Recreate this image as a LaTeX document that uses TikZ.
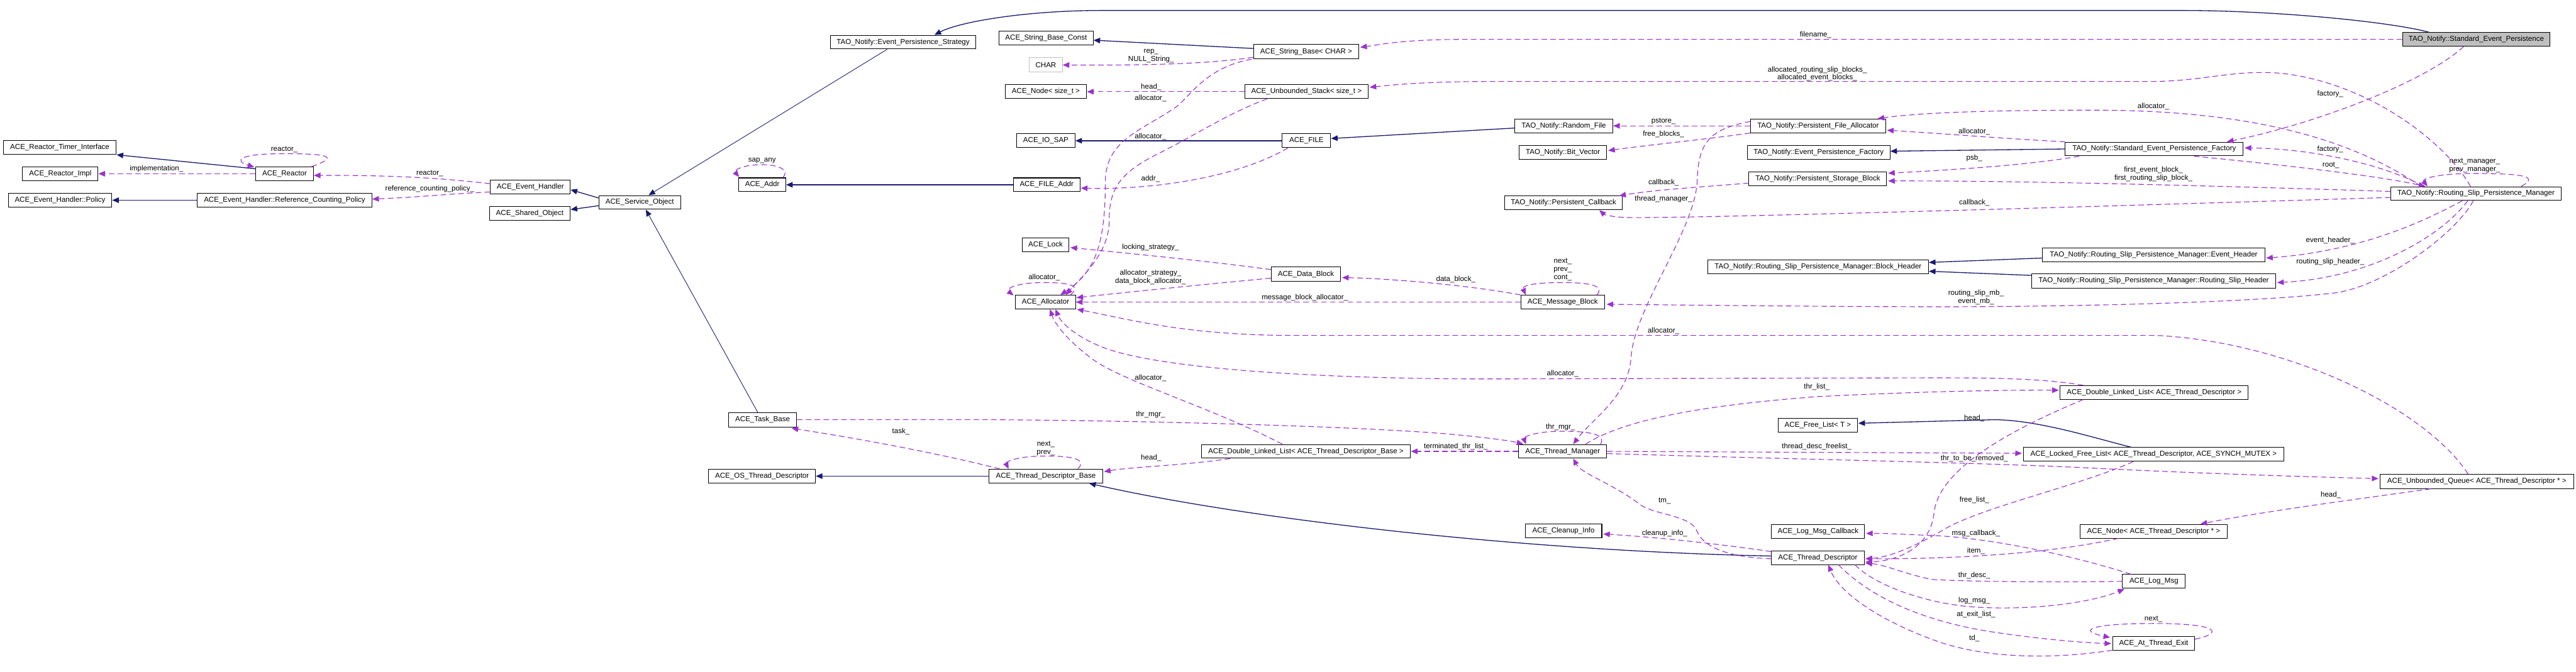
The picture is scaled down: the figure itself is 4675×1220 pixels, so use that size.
\documentclass[tikz,border=0pt]{standalone}
\usepackage{fontspec}
\setmainfont{Liberation Sans}
\usetikzlibrary{arrows.meta,calc}
\definecolor{inhblue}{HTML}{191970}
\definecolor{usepurple}{HTML}{9A32CD}
\definecolor{boxgray}{HTML}{BFBFBF}
\begin{document}
\begin{tikzpicture}[x=1pt,y=-1pt,
 cls/.style={draw=black,line width=1.15pt,fill=white,minimum height=25pt,inner sep=0pt,font=\fontsize{13.2}{15}\selectfont},
 lbl/.style={inner sep=0pt,align=center,font=\fontsize{13.2}{14.5}\selectfont},
 inh/.style={draw=inhblue,line width=1.5pt,-{Triangle[length=12pt,width=10pt]}},
 use/.style={draw=usepurple,line width=1.3pt,dash pattern=on 10pt off 6pt,-{Triangle[length=12pt,width=10pt]}}]
\useasboundingbox (0,0) rectangle (4675,1220);
% ---------- classes
\node[cls,minimum width=205pt] (rti) at (108.5,268) {ACE\_Reactor\_Timer\_Interface};
\node[cls,minimum width=137pt] (rimpl) at (109.5,315.5) {ACE\_Reactor\_Impl};
\node[cls,minimum width=188pt] (policy) at (109,363.5) {ACE\_Event\_Handler::Policy};
\node[cls,minimum width=105pt] (reactor) at (516.5,315.5) {ACE\_Reactor};
\node[cls,minimum width=317pt] (rcp) at (516.5,363.5) {ACE\_Event\_Handler::Reference\_Counting\_Policy};
\node[cls,minimum width=145pt] (eh) at (962.5,339.5) {ACE\_Event\_Handler};
\node[cls,minimum width=147pt] (so) at (961.5,387.5) {ACE\_Shared\_Object};
\node[cls,minimum width=148pt] (svc) at (1161,367.5) {ACE\_Service\_Object};
\node[cls,minimum width=264pt] (eps) at (1639,76.5) {TAO\_Notify::Event\_Persistence\_Strategy};
\node[cls,minimum width=171pt] (sbc) at (1898.5,69) {ACE\_String\_Base\_Const};
\node[cls,minimum width=60pt,minimum height=26pt,draw=boxgray] (char) at (1898,118) {CHAR};
\node[cls,minimum width=148pt] (nodesz) at (1898,166.5) {ACE\_Node< size\_t >};
\node[cls,minimum width=106pt] (iosap) at (1898,255.5) {ACE\_IO\_SAP};
\node[cls,minimum width=85pt] (addr) at (1383.5,335.5) {ACE\_Addr};
\node[cls,minimum width=121pt] (fileaddr) at (1899.5,335.5) {ACE\_FILE\_Addr};
\node[cls,minimum width=191pt,minimum height=26pt] (sb) at (2370.5,94) {ACE\_String\_Base< CHAR >};
\node[cls,minimum width=224pt] (us) at (2371,166.5) {ACE\_Unbounded\_Stack< size\_t >};
\node[cls,minimum width=88pt] (file) at (2371,255.5) {ACE\_FILE};
\node[cls,minimum width=178pt] (rf) at (2838,228.5) {TAO\_Notify::Random\_File};
\node[cls,minimum width=159pt] (bv) at (2836.5,276.5) {TAO\_Notify::Bit\_Vector};
\node[cls,minimum width=245pt] (pfa) at (3299.5,228.5) {TAO\_Notify::Persistent\_File\_Allocator};
\node[cls,minimum width=259pt] (epf) at (3300.5,276.5) {TAO\_Notify::Event\_Persistence\_Factory};
\node[cls,minimum width=250pt] (psb) at (3299,324.5) {TAO\_Notify::Persistent\_Storage\_Block};
\node[cls,minimum width=213pt] (pcb) at (2837.5,368.5) {TAO\_Notify::Persistent\_Callback};
\node[cls,minimum width=268pt,fill=boxgray] (sep) at (4494,71.5) {TAO\_Notify::Standard\_Event\_Persistence};
\node[cls,minimum width=323pt] (sepf) at (3909.5,270.5) {TAO\_Notify::Standard\_Event\_Persistence\_Factory};
\node[cls,minimum width=309pt] (rspm) at (4493.5,351.5) {TAO\_Notify::Routing\_Slip\_Persistence\_Manager};
\node[cls,minimum width=85pt] (lock) at (1897.5,444.5) {ACE\_Lock};
\node[cls,minimum width=109pt] (alloc) at (1897.5,548.5) {ACE\_Allocator};
\node[cls,minimum width=124pt,minimum height=26pt] (task) at (1384,762) {ACE\_Task\_Base};
\node[cls,minimum width=126pt,minimum height=26pt] (db) at (2370,498) {ACE\_Data\_Block};
\node[cls,minimum width=152pt] (mb) at (2836,548.5) {ACE\_Message\_Block};
\node[cls,minimum width=401pt] (bh) at (3299.5,484.5) {TAO\_Notify::Routing\_Slip\_Persistence\_Manager::Block\_Header};
\node[cls,minimum width=144pt] (fl) at (3299,772.5) {ACE\_Free\_List< T >};
\node[cls,minimum width=160pt] (tm) at (2836,819.5) {ACE\_Thread\_Manager};
\node[cls,minimum width=380pt] (dlltdb) at (2370,819.5) {ACE\_Double\_Linked\_List< ACE\_Thread\_Descriptor\_Base >};
\node[cls,minimum width=403pt] (evh) at (3908.5,462.5) {TAO\_Notify::Routing\_Slip\_Persistence\_Manager::Event\_Header};
\node[cls,minimum width=443pt,minimum height=26pt] (rsh) at (3908.5,510) {TAO\_Notify::Routing\_Slip\_Persistence\_Manager::Routing\_Slip\_Header};
\node[cls,minimum width=341pt] (dlltd) at (3909.5,712.5) {ACE\_Double\_Linked\_List< ACE\_Thread\_Descriptor >};
\node[cls,minimum width=473pt] (lfl) at (3908.5,825) {ACE\_Locked\_Free\_List< ACE\_Thread\_Descriptor, ACE\_SYNCH\_MUTEX >};
\node[cls,minimum width=194pt] (ostd) at (1383,864.5) {ACE\_OS\_Thread\_Descriptor};
\node[cls,minimum width=206pt] (tdb) at (1898,864.5) {ACE\_Thread\_Descriptor\_Base};
\node[cls,minimum width=139pt] (cleanup) at (2837.5,963.5) {ACE\_Cleanup\_Info};
\node[cls,minimum width=169pt] (lmc) at (3299.5,964.5) {ACE\_Log\_Msg\_Callback};
\node[cls,minimum width=168pt] (td) at (3299,1012.5) {ACE\_Thread\_Descriptor};
\node[cls,minimum width=352pt,minimum height=26pt] (uq) at (4495,874) {ACE\_Unbounded\_Queue< ACE\_Thread\_Descriptor * >};
\node[cls,minimum width=267pt] (nodetd) at (3908.5,964.5) {ACE\_Node< ACE\_Thread\_Descriptor * >};
\node[cls,minimum width=114pt] (logmsg) at (3909,1055.5) {ACE\_Log\_Msg};
\node[cls,minimum width=149pt] (ate) at (3908.5,1168.5) {ACE\_At\_Thread\_Exit};
% ---------- inheritance
\draw[inh] ($(reactor.north west)+(0,4)$) -- (rti.south east);
\draw[inh] (rcp.west) -- (policy.east);
\draw[inh] ($(svc.west)+(0,-8)$) -- ($(eh.east)+(0,5)$);
\draw[inh] ($(svc.west)+(0,6)$) -- ($(so.east)+(0,-7)$);
\draw[inh,line width=1pt] ($(eps.south)+(-29,0)$) -- ($(svc.north)+(16,0)$);
\draw[inh,line width=1pt] ($(task.north)+(-9,0)$) -- ($(svc.south)+(11,0)$);
\draw[inh] ($(sep.north)+(-86,0)$) .. controls (4330,38) and (4120,19) .. (3960,19) -- (2000,19) .. controls (1860,19) and (1740,40) .. ($(eps.north)+(57,0)$);
\draw[inh] ($(sb.west)+(0,-6)$) -- ($(sbc.east)+(0,4)$);
\draw[inh] (file.west) -- (iosap.east);
\draw[inh] (fileaddr.west) -- (addr.east);
\draw[inh] ($(rf.west)+(0,4)$) -- ($(file.east)+(0,-4)$);
\draw[inh] (sepf.west) -- ($(epf.east)+(0,-2)$);
\draw[inh] ($(evh.west)+(0,6)$) -- ($(bh.east)+(0,-8)$);
\draw[inh] ($(rsh.west)+(0,-10)$) -- ($(bh.east)+(0,8)$);
\draw[inh] (tdb.west) -- (ostd.east);
\draw[inh] ($(td.west)+(0,-3)$) .. controls (2750,1000) and (2250,940) .. ($(tdb.south east)+(-25,0)$);
\draw[inh] ($(lfl.north)+(-41,0)$) .. controls (3800,795) and (3700,763) .. (3620,762) -- ($(fl.east)+(1,-4)$);
% ---------- usage
\draw[use] ($(reactor.north east)+(-4,0)$) .. controls (615,285) and (600,279) .. (516,279) .. controls (430,279) and (425,292) .. ($(reactor.north west)+(-2,1)$);
\draw[use] (reactor.west) -- (rimpl.east);
\draw[use] ($(eh.west)+(0,-6)$) .. controls (790,322) and (700,318) .. ($(reactor.east)+(0,3)$);
\draw[use] ($(eh.west)+(0,9)$) .. controls (800,353) and (760,358) .. ($(rcp.east)+(0,-2)$);
\draw[use] ($(addr.north east)+(-6,0)$) .. controls (1432,312) and (1420,299) .. (1383,299) .. controls (1345,299) and (1332,310) .. ($(addr.north west)+(1,-1)$);
\draw[use] ($(sb.west)+(0,10)$) .. controls (2200,115) and (2100,119) .. (char.east);
\draw[use] (us.west) -- (nodesz.east);
\draw[use] ($(us.south west)+(41,0)$) .. controls (2230,205) and (2170,245) .. (2100,280) .. controls (2030,315) and (2013,345) .. (2013,400) .. controls (2013,460) and (1965,500) .. ($(alloc.north)+(37,0)$);
\draw[use] ($(sb.south west)+(-3,0)$) .. controls (2200,120) and (2170,160) .. (2140,190) .. controls (2080,235) and (2006,250) .. (2006,330) .. controls (2006,450) and (1985,495) .. ($(alloc.north)+(27,0)$);
\draw[use] ($(file.south west)+(11,0)$) .. controls (2250,320) and (2100,345) .. ($(fileaddr.east)+(1,6)$);
\draw[use] (sep.west) -- (2660,71.5) .. controls (2550,71.5) and (2510,80) .. ($(sb.east)+(2,-8)$);
\draw[use] ($(rspm.north)+(-10,0)$) .. controls (4440,260) and (4300,150) .. (4139,133) .. controls (4050,126) and (4000,148) .. (3900,148) -- (2700,148) .. controls (2580,148) and (2520,155) .. ($(us.east)+(2,-8)$);
\draw[use] ($(rspm.north)+(82,0)$) .. controls (4605,322) and (4590,315) .. (4490,315) .. controls (4420,315) and (4395,325) .. ($(rspm.north)+(-88,0)$);
\draw[use] ($(sep.south)+(-23,0)$) .. controls (4400,150) and (4200,225) .. ($(sepf.north)+(132,0)$);
\draw[use] ($(rspm.north)+(-95,0)$) .. controls (4330,300) and (4200,270) .. ($(sepf.east)+(2,-2)$);
\draw[use] ($(sepf.south east)+(-90,0)$) .. controls (4150,300) and (4320,320) .. ($(rspm.north)+(-92,0)$);
\draw[use] (sepf.north west) .. controls (3640,252) and (3520,242) .. ($(pfa.east)+(2,8)$);
\draw[use] ($(rspm.north)+(-100,0)$) .. controls (4250,240) and (4050,200) .. (3800,200) .. controls (3600,200) and (3480,205) .. ($(pfa.north east)+(-15,0)$);
\draw[use] ($(sepf.south west)+(26,0)$) .. controls (3680,300) and (3550,308) .. ($(psb.east)+(2,-10)$);
\draw[use] ($(rspm.west)+(0,-4)$) .. controls (4100,340) and (3700,328) .. ($(psb.east)+(2,4)$);
\draw[use] ($(rspm.west)+(0,7)$) .. controls (3800,375) and (3100,396) .. (2960,395) .. controls (2930,395) and (2912,390) .. ($(pcb.south)+(65,0)$);
\draw[use] ($(psb.west)+(0,8)$) .. controls (3080,340) and (3000,345) .. ($(pcb.north east)+(-6,0)$);
\draw[use] (pfa.west) -- (rf.east);
\draw[use] (pfa.south west) .. controls (3080,255) and (3000,262) .. ($(bv.east)+(2,-3)$);
\draw[use] ($(pfa.west)+(0,-8)$) .. controls (3100,235) and (3082,260) .. (3080,330) .. controls (3075,420) and (2965,560) .. (2960,650) .. controls (2955,720) and (2890,760) .. ($(tm.north)+(19,0)$);
\draw[use] ($(rspm.south)+(-25,0)$) .. controls (4420,390) and (4300,455) .. ($(evh.east)+(2,6)$);
\draw[use] ($(rspm.south)+(-15,0)$) .. controls (4430,430) and (4300,505) .. ($(rsh.east)+(2,3)$);
\draw[use] ($(rspm.south)+(-5,0)$) .. controls (4460,420) and (4330,520) .. (4236,532) .. controls (4100,548) and (3800,557) .. (3500,557) .. controls (3200,556) and (3000,553) .. ($(mb.east)+(3,4)$);
\draw[use] (mb.north west) .. controls (2650,515) and (2500,505) .. ($(db.east)+(2,6)$);
\draw[use] (mb.west) -- (alloc.east);
\draw[use] ($(mb.north)+(62,0)$) .. controls (2912,520) and (2890,513) .. (2836,513) .. controls (2775,513) and (2762,520) .. ($(mb.north)+(-67,0)$);
\draw[use] ($(db.north west)+(0,5)$) .. controls (2200,475) and (2050,460) .. ($(lock.east)+(2,5)$);
\draw[use] ($(db.west)+(0,7)$) .. controls (2200,515) and (2050,530) .. ($(alloc.east)+(1,-8)$);
\draw[use] ($(alloc.north east)+(-10,0)$) .. controls (1962,520) and (1945,513) .. (1897,513) .. controls (1840,513) and (1825,525) .. ($(alloc.north west)+(-3,1)$);
\draw[use] ($(uq.north)+(-16,0)$) .. controls (4400,740) and (4150,620) .. (3912,609) -- (2340,609) .. controls (2150,608) and (2050,580) .. ($(alloc.south east)+(2,0)$);
\draw[use] ($(dlltd.north west)+(42,0)$) .. controls (3700,686) and (3600,686) .. (3500,686) -- (2700,688) .. controls (2400,688) and (2100,670) .. (2000,630) .. controls (1950,610) and (1925,585) .. ($(alloc.south)+(18,0)$);
\draw[use] ($(dlltdb.north)+(-43,0)$) .. controls (2200,740) and (2030,690) .. (1980,650) .. controls (1940,620) and (1915,590) .. ($(alloc.south)+(8,0)$);
\draw[use] ($(tm.north east)+(-39,0)$) .. controls (2950,760) and (3100,735) .. (3300,720) .. controls (3500,710) and (3650,708) .. ($(dlltd.west)+(-2,-4)$);
\draw[use] (task.east) -- (1800,762) .. controls (2100,764) and (2500,775) .. (2650,790) .. controls (2700,795) and (2740,800) .. ($(tm.north west)+(9,0)$);
\draw[use] ($(tm.north east)+(-12,0)$) .. controls (2915,790) and (2890,783) .. (2836,783) .. controls (2780,783) and (2765,795) .. ($(tm.north west)+(14,0)$);
\draw[use] ($(tdb.north west)+(20,0)$) .. controls (1700,822) and (1550,795) .. ($(task.south east)+(-10,2)$);
\draw[use] ($(tdb.north)+(58,0)$) .. controls (1972,835) and (1952,828) .. (1898,828) .. controls (1840,828) and (1825,840) .. ($(tdb.north west)+(36,0)$);
\draw[use] ($(dlltdb.south west)+(53,0)$) .. controls (2150,845) and (2050,848) .. ($(tdb.east)+(2,-8)$);
\draw[use] (tm.west) -- (dlltdb.east);
\draw[use] (tm.east) -- ($(lfl.west)+(-2,-2)$);
\draw[use] ($(tm.east)+(0,4)$) .. controls (3300,835) and (3600,840) .. (3800,850) .. controls (4000,860) and (4200,866) .. ($(uq.west)+(-2,-5)$);
\draw[use] ($(td.west)+(0,2)$) .. controls (3130,1012) and (3090,990) .. (3080,965) .. controls (3070,935) and (3000,935) .. (2975,915) .. controls (2930,880) and (2870,860) .. ($(tm.south)+(19,0)$);
\draw[use] ($(td.north west)+(0,2)$) .. controls (3100,985) and (3000,975) .. ($(cleanup.east)+(2,6)$);
\draw[use] ($(lfl.south)+(-37,0)$) .. controls (3780,880) and (3600,920) .. (3530,960) .. controls (3480,990) and (3430,1012) .. ($(td.east)+(2,2)$);
\draw[use] ($(dlltd.south west)+(42,0)$) .. controls (3650,780) and (3520,850) .. (3510,930) .. controls (3505,990) and (3450,1018) .. ($(td.east)+(2,8)$);
\draw[use] ($(logmsg.north)+(-42,0)$) .. controls (3750,1005) and (3600,975) .. (3500,972) .. controls (3450,970) and (3420,968) .. ($(lmc.east)+(2,4)$);
\draw[use] ($(nodetd.south west)+(70,0)$) .. controls (3720,1005) and (3550,1015) .. ($(td.east)+(2,2)$);
\draw[use] ($(uq.south west)+(93,0)$) .. controls (4250,910) and (4100,930) .. ($(nodetd.north)+(85,0)$);
\draw[use] (logmsg.west) .. controls (3700,1058) and (3550,1055) .. (3505,1052) .. controls (3450,1040) and (3420,1025) .. ($(td.east)+(2,10)$);
\draw[use] ($(td.south east)+(-17,0)$) .. controls (3400,1060) and (3480,1090) .. (3560,1100) .. controls (3650,1110) and (3780,1100) .. ($(logmsg.south west)+(4,1)$);
\draw[use] ($(td.south east)+(-47,0)$) .. controls (3400,1090) and (3500,1130) .. (3620,1148) .. controls (3700,1160) and (3780,1167) .. ($(ate.west)+(-2,0)$);
\draw[use] ($(ate.south west)+(0,-1)$) .. controls (3720,1198) and (3600,1195) .. (3512,1163) .. controls (3420,1130) and (3340,1080) .. ($(td.south)+(19,0)$);
\draw[use] ($(ate.east)+(0,-8)$) .. controls (4035,1150) and (4030,1132) .. (3910,1132) .. controls (3790,1132) and (3770,1145) .. ($(ate.north west)+(-4,2)$);
% ---------- labels
\node[lbl] (l_reactorself) at (516,272) {reactor\_};
\node[lbl] (l_impl) at (284,307) {implementation\_};
\node[lbl] (l_reactor) at (780,315) {reactor\_};
\node[lbl] (l_rcp) at (780,343) {reference\_counting\_policy\_};
\node[lbl] (l_sap) at (1383,292) {sap\_any};
\node[lbl] (l_rep) at (2089,101.5) {rep\_\\NULL\_String\_};
\node[lbl] (l_headsz) at (2089,158) {head\_};
\node[lbl] (l_alloc1) at (2088,179) {allocator\_};
\node[lbl] (l_alloc2) at (2088,248) {allocator\_};
\node[lbl] (l_addr) at (2088,325) {addr\_};
\node[lbl] (l_filename) at (3295,63) {filename\_};
\node[lbl] (l_allocated) at (3298,134) {allocated\_routing\_slip\_blocks\_\\allocated\_event\_blocks\_};
\node[lbl] (l_mgr) at (4491,300.5) {next\_manager\_\\prev\_manager\_};
\node[lbl] (l_factory1) at (4229,171) {factory\_};
\node[lbl] (l_factory2) at (4229,271) {factory\_};
\node[lbl] (l_root) at (4230,300) {root\_};
\node[lbl] (l_alloc3) at (3583,239) {allocator\_};
\node[lbl] (l_alloc4) at (3908,193) {allocator\_};
\node[lbl] (l_psb) at (3583,287) {psb\_};
\node[lbl] (l_first) at (3908,316) {first\_event\_block\_\\first\_routing\_slip\_block\_};
\node[lbl] (l_cb1) at (3583,368) {callback\_};
\node[lbl] (l_cb2) at (3019,332) {callback\_};
\node[lbl] (l_pstore) at (3019,220) {pstore\_};
\node[lbl] (l_free) at (3019,244) {free\_blocks\_};
\node[lbl] (l_thrmgr0) at (3019,361) {thread\_manager\_};
\node[lbl] (l_evh) at (4229,437) {event\_header\_};
\node[lbl] (l_rsh) at (4229,475) {routing\_slip\_header\_};
\node[lbl] (l_mb) at (3586,539.5) {routing\_slip\_mb\_\\event\_mb\_};
\node[lbl] (l_db) at (2642,507) {data\_block\_};
\node[lbl] (l_mba) at (2368,540) {message\_block\_allocator\_};
\node[lbl] (l_mbself) at (2836,489.5) {next\_\\prev\_\\cont\_};
\node[lbl] (l_lock) at (2088,449) {locking\_strategy\_};
\node[lbl] (l_dba) at (2088,503.5) {allocator\_strategy\_\\data\_block\_allocator\_};
\node[lbl] (l_allocself) at (1895,504) {allocator\_};
\node[lbl] (l_alloc5) at (3019,601) {allocator\_};
\node[lbl] (l_alloc6) at (2836,678) {allocator\_};
\node[lbl] (l_alloc7) at (2088,687) {allocator\_};
\node[lbl] (l_thrlist) at (3297,703) {thr\_list\_};
\node[lbl] (l_thrmgr1) at (2088,753) {thr\_mgr\_};
\node[lbl] (l_thrmgr2) at (2832,775) {thr\_mgr\_};
\node[lbl] (l_task) at (1635,783) {task\_};
\node[lbl] (l_tdbself) at (1898,814) {next\_\\prev\_};
\node[lbl] (l_head1) at (2089,831) {head\_};
\node[lbl] (l_term) at (2642,811) {terminated\_thr\_list\_};
\node[lbl] (l_freelist) at (3297,811) {thread\_desc\_freelist\_};
\node[lbl] (l_remove) at (3583,833) {thr\_to\_be\_removed\_};
\node[lbl] (l_tm) at (3021,909) {tm\_};
\node[lbl] (l_cleanup) at (3021,968) {cleanup\_info\_};
\node[lbl] (l_fl) at (3583,908) {free\_list\_};
\node[lbl] (l_head2) at (3583,759) {head\_};
\node[lbl] (l_msgcb) at (3586,968) {msg\_callback\_};
\node[lbl] (l_item) at (3586,1000) {item\_};
\node[lbl] (l_head3) at (4230,899) {head\_};
\node[lbl] (l_thrdesc) at (3583,1045) {thr\_desc\_};
\node[lbl] (l_logmsg) at (3583,1091) {log\_msg\_};
\node[lbl] (l_atexit) at (3586,1116) {at\_exit\_list\_};
\node[lbl] (l_td) at (3583,1159) {td\_};
\node[lbl] (l_next) at (3908,1124) {next\_};
\end{tikzpicture}
\end{document}
